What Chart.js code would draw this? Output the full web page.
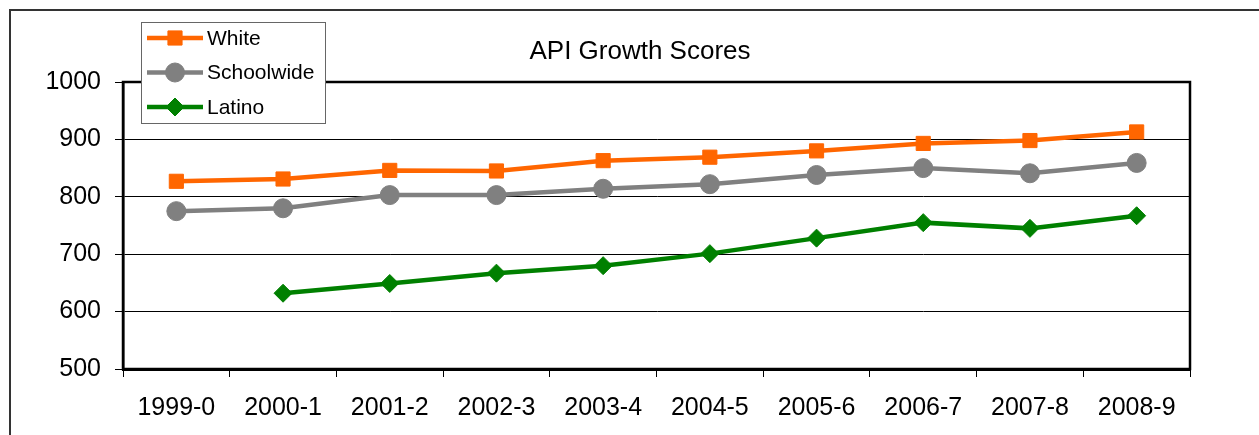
<!DOCTYPE html>
<html>
<head>
<meta charset="utf-8">
<script src="https://cdn.jsdelivr.net/npm/chart.js@4"></script>
<style>
  body { margin: 0; background: #fff; }
  canvas { display: block; }
</style>
</head>
<body>
<canvas id="myChart" width="1259" height="435"></canvas>
<script>
const years = ['1999-0', '2000-1', '2001-2', '2002-3', '2003-4', '2004-5', '2005-6', '2006-7', '2007-8', '2008-9'];
const white = [827, 831, 846, 845, 863, 869, 880, 893, 898, 913];
const schoolwide = [775, 780, 803, 803, 814, 822, 838, 850, 841, 859];
const latino = [null, 632, 649, 667, 680, 701, 728, 755, 745, 767];
const yTicks = [500, 600, 700, 800, 900, 1000];

const font = 'Arial, "Liberation Sans", sans-serif';

// border round the whole picture, plot frame, title and the boxed legend
const decor = {
  id: 'decor',
  beforeDatasetsDraw(chart) {
    const c = chart.ctx, a = chart.chartArea;
    c.save();
    c.strokeStyle = '#000';
    c.lineWidth = 2.5;
    c.strokeRect(a.left, a.top, a.right - a.left, a.bottom - a.top);
    c.restore();
  },
  afterDraw(chart) {
    const c = chart.ctx;
    c.save();
    c.strokeStyle = '#333';
    c.lineWidth = 2;
    c.beginPath();
    c.moveTo(10, 435); c.lineTo(10, 10); c.lineTo(1259, 10);
    c.stroke();

    c.fillStyle = '#000';
    c.font = '26px ' + font;
    c.textAlign = 'center';
    c.textBaseline = 'middle';
    c.fillText('API Growth Scores', 640, 52);

    // legend box
    c.fillStyle = '#fff';
    c.fillRect(141, 22, 184, 101);
    c.strokeStyle = '#666';
    c.lineWidth = 1;
    c.strokeRect(141.5, 22.5, 184, 101);
    c.font = '21px ' + font;
    c.textAlign = 'left';
    chart.data.datasets.forEach((ds, i) => {
      const y = 38 + i * 34.5;
      c.strokeStyle = ds.borderColor;
      c.lineWidth = ds.borderWidth;
      c.beginPath();
      c.moveTo(147, y); c.lineTo(203, y);
      c.stroke();
      c.fillStyle = ds.backgroundColor;
      c.strokeStyle = ds.borderColor;
      c.lineWidth = 1;
      Chart.helpers.drawPoint(c, { pointStyle: ds.pointStyle, radius: ds.pointRadius, borderWidth: 1 }, 175, y);
      c.fillStyle = '#000';
      c.fillText(ds.label, 207, y + 1);
    });
    c.restore();
  }
};

new Chart(document.getElementById('myChart'), {
  type: 'line',
  data: {
    labels: years,
    datasets: [{
      label: 'White',
      data: white,
      borderColor: '#FF6600',
      backgroundColor: '#FF6600',
      borderWidth: 4.5,
      pointStyle: 'rect',
      pointRadius: 10,
      pointBorderWidth: 1
    }, {
      label: 'Schoolwide',
      data: schoolwide,
      borderColor: '#808080',
      backgroundColor: '#808080',
      borderWidth: 4.5,
      pointStyle: 'circle',
      pointRadius: 9.5,
      pointBorderWidth: 1
    }, {
      label: 'Latino',
      data: latino,
      borderColor: '#008000',
      backgroundColor: '#008000',
      borderWidth: 4.5,
      pointStyle: 'rectRot',
      pointRadius: 9,
      pointBorderWidth: 1
    }]
  },
  options: {
    responsive: false,
    animation: false,
    layout: { padding: { top: 82, right: 69, left: 0, bottom: 0 } },
    plugins: {
      legend: { display: false },
      title: { display: false },
      tooltip: { enabled: false }
    },
    elements: { line: { tension: 0 } },
    scales: {
      x: {
        offset: true,
        afterFit(scale) { scale.height = 66; },
        grid: { offset: true, drawOnChartArea: false, tickLength: 8, color: '#000', lineWidth: 1 },
        border: { color: '#000', width: 3 },
        ticks: { color: '#000', font: { family: font, size: 25 }, padding: 16, maxRotation: 0 }
      },
      y: {
        min: 500,
        max: 1000,
        afterFit(scale) { scale.width = 123; },
        afterBuildTicks(scale) { scale.ticks = yTicks.map(v => ({ value: v })); },
        grid: { color: '#000', lineWidth: 1, tickLength: 8 },
        border: { color: '#000', width: 2.5 },
        ticks: { color: '#000', font: { family: font, size: 25 }, padding: 14, callback: v => String(v) }
      }
    }
  },
  plugins: [decor]
});
</script>
</body>
</html>
